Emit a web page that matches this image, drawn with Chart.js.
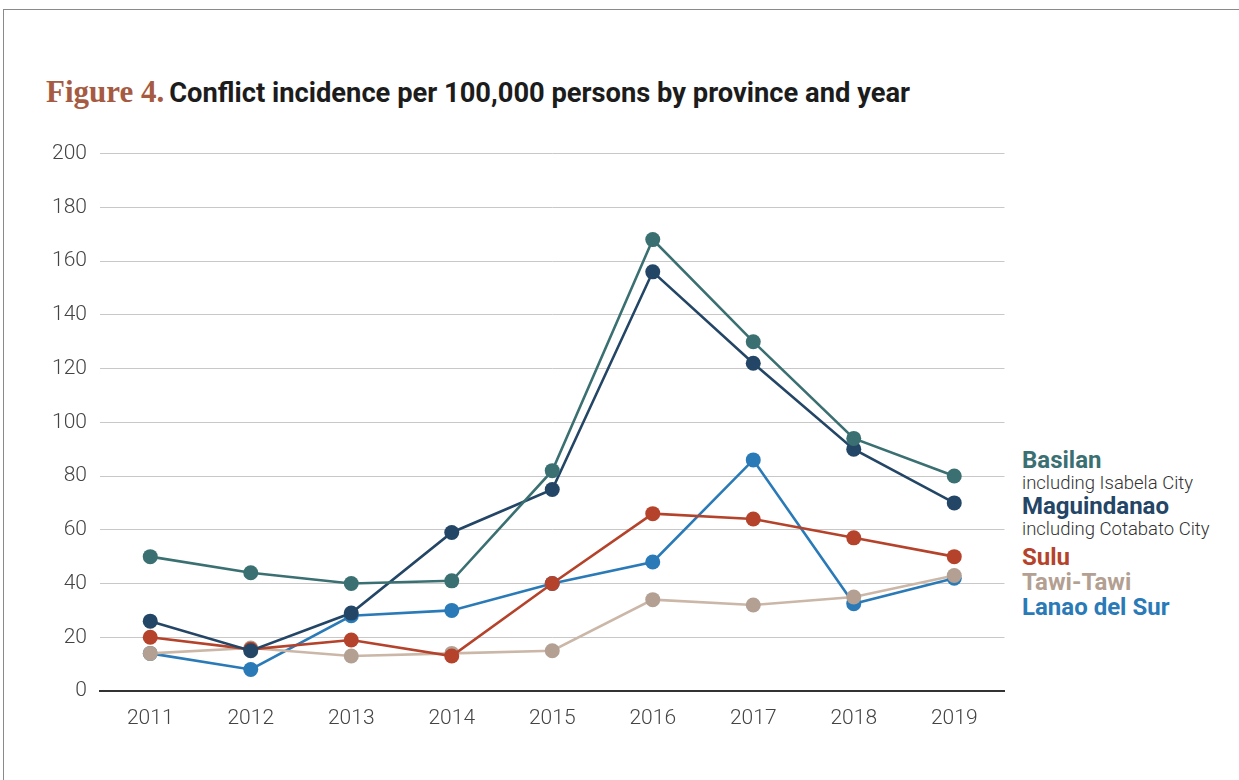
<!DOCTYPE html>
<html>
<head>
<meta charset="utf-8">
<script src="https://cdn.jsdelivr.net/npm/chart.js@4.4.0/dist/chart.umd.min.js"></script>
<style>
  body { margin: 0; background: #fff; width: 1239px; height: 780px; overflow: hidden; position: relative; font-family: Roboto, sans-serif; }
  .frame { position: absolute; left: 3px; top: 9px; right: -5px; bottom: -5px; border-top: 1px solid #8a8a8a; border-left: 1px solid #8a8a8a; }
  .title { position: absolute; left: 46px; top: 74px; white-space: nowrap; }
  .title .fig { font-family: 'Liberation Serif', serif; font-weight: bold; font-size: 31px; color: #a65a42; }
  .title .txt { font-family: Roboto, sans-serif; font-weight: bold; font-size: 27.3px; color: #1c1c1c; margin-left: 5px; }
  .chart-box { position: absolute; left: 0; top: 128px; width: 1012px; height: 613px; }
  .legend { position: absolute; left: 1022px; top: 449px; }
  .legend div { white-space: nowrap; }
  .legend .name { font-weight: bold; font-size: 24px; line-height: 23px; }
  .legend .sub { font-weight: 300; font-size: 18.5px; line-height: 23px; color: #333; }
</style>
</head>
<body>
<div class="frame"></div>
<div class="title"><span class="fig">Figure 4.</span><span class="txt">Conflict incidence per 100,000 persons by province and year</span></div>
<div class="chart-box"><canvas id="grafico"></canvas></div>
<div class="legend">
  <div class="name" style="color:#3b7072">Basilan</div>
  <div class="sub">including Isabela City</div>
  <div class="name" style="color:#244666">Maguindanao</div>
  <div class="sub" style="margin-bottom:4px">including Cotabato City</div>
  <div class="name" style="color:#b5432b;line-height:25px">Sulu</div>
  <div class="name" style="color:#b3a092;line-height:25px">Tawi-Tawi</div>
  <div class="name" style="color:#2a7ab8;line-height:25px">Lanao del Sur</div>
</div>
<script>
// Dados do gráfico
const anos = ['2011', '2012', '2013', '2014', '2015', '2016', '2017', '2018', '2019'];
const basilan = [50, 44, 40, 41, 82, 168, 130, 94, 80];
const maguindanao = [26, 15, 29, 59, 75, 156, 122, 90, 70];
const sulu = [20, 15.5, 19, 13, 40, 66, 64, 57, 50];
const tawiTawi = [14, 16, 13, 14, 15, 34, 32, 35, 43];
const lanaoDelSur = [14, 8, 28, 30, 40, 48, 86, 32.5, 42];

const serie = (label, data, cor, corLinha) => ({
    label: label,
    data: data,
    borderColor: corLinha || cor,
    backgroundColor: cor,
    pointBackgroundColor: cor,
    pointBorderColor: cor,
    pointRadius: 7.5,
    pointBorderWidth: 0,
    borderWidth: 2.6,
    tension: 0
});

const ctx = document.getElementById('grafico').getContext('2d');
new Chart(ctx, {
    type: 'line',
    data: {
        labels: anos,
        datasets: [
            serie('Basilan', basilan, '#3b7072'),
            serie('Maguindanao', maguindanao, '#244666'),
            serie('Sulu', sulu, '#b5432b'),
            serie('Tawi-Tawi', tawiTawi, '#b3a092', '#cbb7a8'),
            serie('Lanao del Sur', lanaoDelSur, '#2a7ab8')
        ]
    },
    options: {
        responsive: true,
        maintainAspectRatio: false,
        animation: false,
        layout: { padding: { top: 2, right: 4, left: 0, bottom: 0 } },
        plugins: {
            legend: { display: false },
            tooltip: { enabled: false }
        },
        scales: {
            x: {
                offset: true,
                grid: { display: false },
                border: { display: true, color: '#333', width: 2 },
                ticks: {
                    padding: 7,
                    color: '#444',
                    font: { family: 'Roboto', weight: '300', size: 21 }
                },
                afterFit: (scale) => { scale.height = 50; }
            },
            y: {
                min: 0,
                max: 200,
                grid: { color: '#c8c8c8', lineWidth: 1, drawTicks: false },
                border: { display: false },
                ticks: {
                    stepSize: 20,
                    padding: 13,
                    color: '#444',
                    font: { family: 'Roboto', weight: '300', size: 21 }
                },
                afterFit: (scale) => { scale.width = 100; }
            }
        }
    }
});
</script>
</body>
</html>
